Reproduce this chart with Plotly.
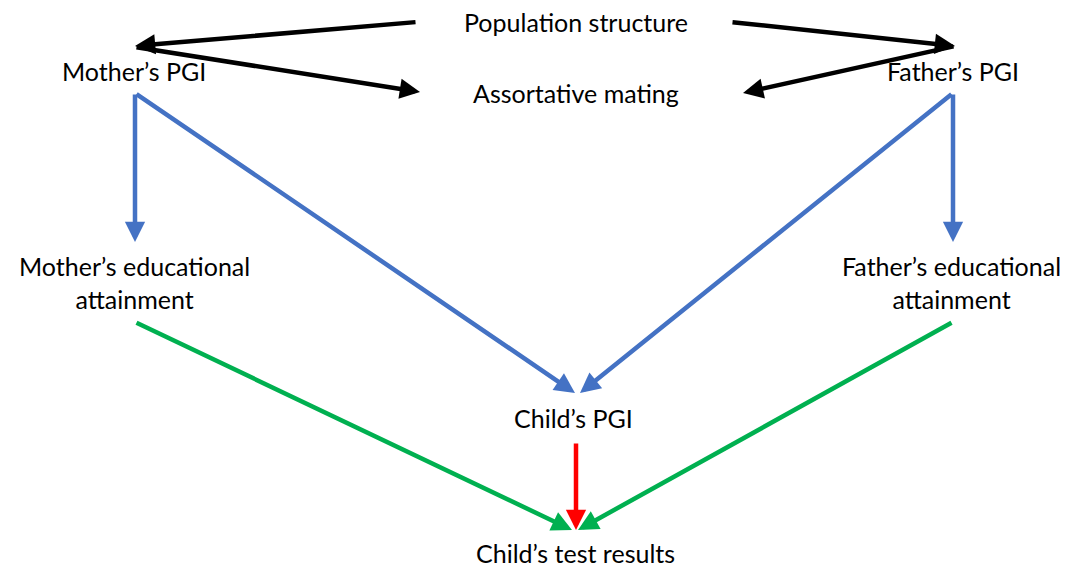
import plotly.graph_objects as go

W, H = 1071, 570
PAD = 8  # browser body margin

# Node labels and centre positions (pixel space, y downward)
node_labels = ["Population structure", "Mother’s PGI", "Assortative mating", "Father’s PGI",
               "Mother’s educational<br>attainment", "Father’s educational<br>attainment",
               "Child’s PGI", "Child’s test results"]
node_x = [576, 134, 576, 953, 134, 951, 573, 575]
node_y = [22, 71, 93, 71, 282, 282, 418, 553]

# Edges: tail (x0,y0) -> head (x1,y1), colour
edge_x0 = [417, 135, 731, 955, 135, 135, 953, 953, 135, 953, 576]
edge_y0 = [22, 47, 22, 46, 93, 93, 93, 93, 322, 322, 442]
edge_x1 = [135, 420, 955, 743, 135, 575, 953, 580, 572, 578, 576]
edge_y1 = [46, 92, 46, 93, 242, 393, 242, 393, 530, 530, 530]
edge_color = ["#000000", "#000000", "#000000", "#000000",
              "#4472C4", "#4472C4", "#4472C4", "#4472C4",
              "#00B050", "#00B050", "#FF0000"]

fig = go.Figure()
fig.add_trace(go.Scatter(x=[PAD, W], y=[PAD, H], mode="markers",
                         marker=dict(opacity=0), hoverinfo="skip", showlegend=False))

for x0, y0, x1, y1, c in zip(edge_x0, edge_y0, edge_x1, edge_y1, edge_color):
    fig.add_annotation(x=x1, y=y1, ax=x0, ay=y0, xref="x", yref="y", axref="x", ayref="y",
                       showarrow=True, arrowhead=2, arrowsize=0.9, arrowwidth=4.5,
                       arrowcolor=c, text="", standoff=0, startstandoff=0)

for lab, x, y in zip(node_labels, node_x, node_y):
    fig.add_annotation(x=x, y=y, xref="x", yref="y", text=lab, showarrow=False,
                       font=dict(family="Lato, Carlito, Open Sans, sans-serif", size=25, color="#000000"),
                       align="center", xanchor="center", yanchor="middle")

fig.update_layout(width=W - PAD, height=H - PAD, margin=dict(l=0, r=0, t=0, b=0),
                  paper_bgcolor="white", plot_bgcolor="white", showlegend=False)
fig.update_xaxes(range=[PAD, W], visible=False, fixedrange=True)
fig.update_yaxes(range=[H, PAD], visible=False, fixedrange=True)

fig.write_html("out.html")
